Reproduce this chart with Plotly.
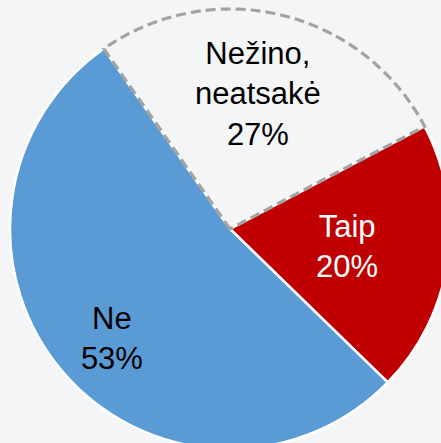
import numpy as np
import plotly.graph_objects as go

# 数据
labels = ["Nežino,<br>neatsakė", "Taip", "Ne"]
values = [27, 20, 53]
colors = ["rgba(0,0,0,0)", "#c00000", "#5b9bd5"]
edge_colors = ["rgba(0,0,0,0)", "white", "white"]
text_colors = ["black", "white", "black"]
start_angle = -35  # 第一块从12点方向逆时针35度开始

# 标签位置微调（相对半径、角度偏移）
label_r = [0.615, 0.54, 0.74]
label_dtheta = [-1.7, 1.5, -3.1]

W, H = 460, 460
R_PIE = 220
R_DOM = 224
cx, cy = 230, 229
dom_x = [(cx - R_DOM) / W, (cx + R_DOM) / W]
dom_y = [(H - cy - R_DOM) / H, (H - cy + R_DOM) / H]
FONT = "Arial, Liberation Sans, sans-serif"

total = sum(values)
widths = [360 * v / total for v in values]
starts = start_angle + np.concatenate([[0], np.cumsum(widths)[:-1]])
mids = starts + np.array(widths) / 2

fig = go.Figure()

# 扇区（用 barpolar 画饼）
fig.add_trace(go.Barpolar(
    r=[1] * len(values),
    theta=mids,
    width=widths,
    marker=dict(color=colors, line=dict(color=edge_colors, width=2.5)),
    hoverinfo="skip",
    showlegend=False,
))

# 虚线轮廓（“Nežino”扇区）
a0, a1 = starts[0], starts[0] + widths[0]
arc = np.linspace(a0, a1, 150)
fig.add_trace(go.Scatterpolar(
    r=np.concatenate([[0], np.ones(len(arc)), [0]]),
    theta=np.concatenate([[a0], arc, [a1]]),
    mode="lines",
    line=dict(color="#a3a3a3", width=3.2, dash="10px,5px"),
    cliponaxis=False, hoverinfo="skip", showlegend=False,
))

# 标签
fig.add_trace(go.Scatterpolar(
    r=label_r,
    theta=mids + np.array(label_dtheta),
    mode="text",
    text=[f"{l}<br>{v}%" for l, v in zip(labels, values)],
    textposition="middle center",
    textfont=dict(color=text_colors, size=31, family=FONT),
    cliponaxis=False, hoverinfo="skip", showlegend=False,
))

fig.update_layout(
    width=W, height=H,
    margin=dict(l=0, r=0, t=0, b=0),
    paper_bgcolor="#f4f5f7",
    font=dict(family=FONT),
    polar=dict(
        domain=dict(x=dom_x, y=dom_y),
        bgcolor="rgba(0,0,0,0)",
        bargap=0,
        radialaxis=dict(range=[0, R_DOM / R_PIE], visible=False, showgrid=False),
        angularaxis=dict(rotation=90, direction="clockwise", visible=False,
                         showgrid=False),
    ),
)

fig.write_html(
    "out.html",
    config=dict(displayModeBar=False),
    post_script="document.body.style.margin='0';document.body.style.overflow='hidden';",
)
